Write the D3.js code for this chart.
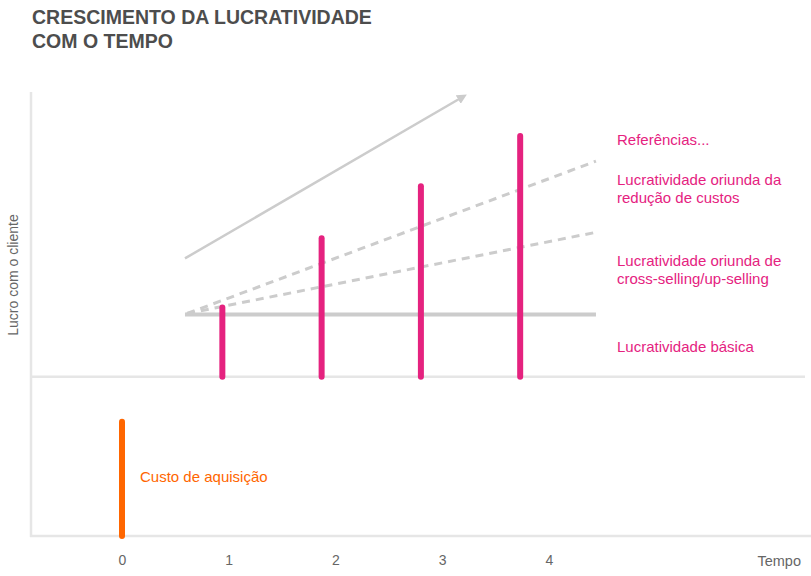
<!DOCTYPE html>
<html><head><meta charset="utf-8">
<script src="https://cdn.jsdelivr.net/npm/d3@7"></script>
<style>body{margin:0;background:#fff}svg{display:block;font-family:"Liberation Sans",Arial,sans-serif}</style>
</head><body><svg id="c" width="811" height="576"></svg>
<script>
// ---- data ----
const title = ["CRESCIMENTO DA LUCRATIVIDADE", "COM O TEMPO"];
const xTicks = [0, 1, 2, 3, 4];
const xAxisTitle = "Tempo";
const yAxisTitle = "Lucro com o cliente";
const barTimes = [0.94, 1.87, 2.80, 3.73];
const barValues = [6.9, 13.8, 19.0, 24.0];
const costTime = 0;
const costRange = [-4.5, -15.9];
const costLabel = "Custo de aquisição";
const baseLine = [[0.59, 6.2], [4.44, 6.2]];
const crossLine = [[0.61, 6.3], [4.44, 14.4]];
const costRedLine = [[0.61, 6.3], [4.44, 21.5]];
const arrowLine = [[0.59, 11.8], [3.19, 27.9]];
const legendLabels = [
  {lines: ["Referências..."], v: 23.1},
  {lines: ["Lucratividade oriunda da", "redução de custos"], v: 19.1},
  {lines: ["Lucratividade oriunda de", "cross-selling/up-selling"], v: 11.0},
  {lines: ["Lucratividade básica"], v: 2.5}
];

const pink = "#e5227f", orange = "#ff6600", grey = "#cccccc", axisC = "#e6e6e6";

const svg = d3.select("#c");
const x = d3.scaleLinear().domain([0, 4]).range([122, 549]);
const y = d3.scaleLinear().domain([-15.9, 28.4]).range([536, 92]);

// title
svg.append("g").selectAll("text").data(title).join("text")
  .attr("x", 32).attr("y", (d, i) => 24 + i * 24)
  .attr("font-size", 19.5).attr("font-weight", "bold").attr("fill", "#4d4d4d")
  .text(d => d);

// axes
svg.append("line").attr("x1", 31).attr("x2", 31).attr("y1", y.range()[1]).attr("y2", y(-15.9) + 1)
  .attr("stroke", axisC).attr("stroke-width", 2.5);
svg.append("line").attr("x1", 30).attr("x2", 811).attr("y1", y(-15.9)).attr("y2", y(-15.9))
  .attr("stroke", axisC).attr("stroke-width", 2.5);
svg.append("line").attr("x1", 30).attr("x2", 805).attr("y1", y(0)).attr("y2", y(0))
  .attr("stroke", axisC).attr("stroke-width", 2.5);

const xAxis = d3.axisBottom(x).tickValues(xTicks).tickSize(0).tickFormat(d3.format("d"));
const gx = svg.append("g").attr("transform", `translate(0,${y(-15.9) + 16})`).call(xAxis);
gx.select(".domain").remove();
gx.selectAll("text").attr("font-size", 14).attr("fill", "#666").attr("font-family", "Liberation Sans, Arial");
svg.append("text").attr("x", 801).attr("y", 566).attr("text-anchor", "end")
  .attr("font-size", 14.5).attr("fill", "#666").text(xAxisTitle);
svg.append("text").attr("transform", `translate(18,275) rotate(-90)`).attr("text-anchor", "middle")
  .attr("font-size", 14).attr("fill", "#666").text(yAxisTitle);

// lines
const line = d3.line().x(d => x(d[0])).y(d => y(d[1]));
svg.append("path").attr("d", line(baseLine)).attr("stroke", grey).attr("stroke-width", 4).attr("fill", "none");
[crossLine, costRedLine].forEach(l => svg.append("path").attr("d", line(l))
  .attr("stroke", grey).attr("stroke-width", 3).attr("stroke-dasharray", "8,6").attr("fill", "none"));

svg.append("defs").append("marker").attr("id", "arr").attr("viewBox", "0 0 10 10")
  .attr("refX", 5).attr("refY", 5).attr("markerWidth", 4).attr("markerHeight", 4)
  .attr("orient", "auto").attr("markerUnits", "strokeWidth")
  .append("path").attr("d", "M0,0L10,5L0,10Z").attr("fill", grey);
svg.append("path").attr("d", line(arrowLine)).attr("stroke", grey).attr("stroke-width", 2.5)
  .attr("fill", "none").attr("marker-end", "url(#arr)");

// bars
svg.append("g").selectAll("line").data(barValues).join("line")
  .attr("x1", (d, i) => x(barTimes[i])).attr("x2", (d, i) => x(barTimes[i]))
  .attr("y1", y(0)).attr("y2", d => y(d))
  .attr("stroke", pink).attr("stroke-width", 6).attr("stroke-linecap", "round");
svg.append("line").attr("x1", x(costTime)).attr("x2", x(costTime))
  .attr("y1", y(costRange[0])).attr("y2", y(costRange[1]))
  .attr("stroke", orange).attr("stroke-width", 6).attr("stroke-linecap", "round");
svg.append("text").attr("x", 140).attr("y", 482).attr("font-size", 15).attr("fill", orange).text(costLabel);

// right labels
const lg = svg.append("g");
legendLabels.forEach(l => {
  l.lines.forEach((t, i) => lg.append("text").attr("x", 617).attr("y", y(l.v) + i * 18)
    .attr("font-size", 15).attr("fill", pink).text(t));
});
</script></body></html>
